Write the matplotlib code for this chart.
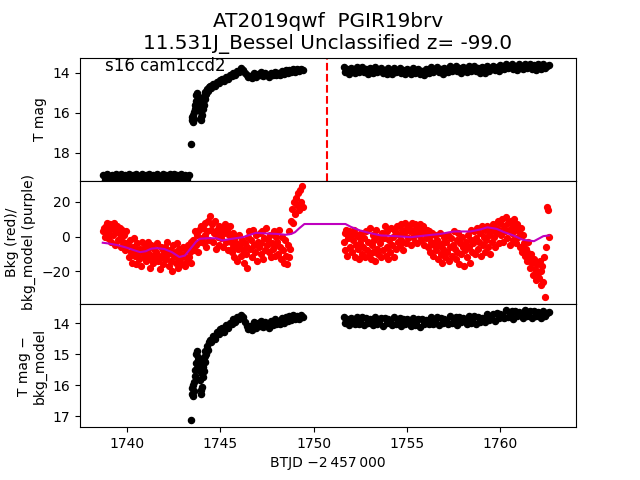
import numpy as np
import matplotlib
matplotlib.use("Agg")
import matplotlib.pyplot as plt

# ---------------- data ----------------
# cadence / segment starts (BTJD - 2457000)
t_faint_start, t_mag_step = 1738.7, 0.1
t_left_start = 1744.5
t_right_start = 1751.6
t_bkg_left_start, t_bkg_right_start, t_bkg_step = 1738.7, 1751.6, 0.05

# quiescent (faint) T mag, only in top panel
mag_faint = [19.10, 19.35, 19.08, 19.25, 19.42, 19.09, 19.30, 19.08, 19.38, 19.20,
             19.08, 19.40, 19.10, 19.28, 19.08, 19.36, 19.09, 19.24, 19.08, 19.41,
             19.18, 19.08, 19.33, 19.10, 19.43, 19.08, 19.26, 19.09, 19.37, 19.08,
             19.22, 19.39, 19.07, 19.30, 19.09, 19.40, 19.08, 19.27, 19.06, 19.35,
             19.09, 19.24, 19.08, 19.38, 19.10, 19.30, 19.12]

# outburst rise
t_rise = [1743.40, 1743.48, 1743.50, 1743.53, 1743.55, 1743.58, 1743.60, 1743.63, 1743.65,
          1743.68, 1743.70, 1743.73, 1743.75, 1743.78, 1743.80, 1743.85, 1743.90, 1743.93,
          1743.95, 1743.98, 1744.00, 1744.03, 1744.05, 1744.08, 1744.10, 1744.13, 1744.15,
          1744.18, 1744.20, 1744.25, 1744.30, 1744.35, 1744.40, 1744.45]
mag_rise = [17.58, 16.35, 16.20, 16.45, 16.10, 16.30, 15.95, 15.60, 15.80, 15.40, 15.10,
            15.55, 15.00, 15.30, 15.15, 15.35, 15.60, 15.90, 16.20, 16.35, 15.70, 16.10,
            15.45, 15.80, 15.25, 15.60, 15.30, 15.10, 14.95, 15.05, 14.80, 14.90, 14.70, 14.65]
dmag_rise = [17.14, 16.30, 16.10, 16.35, 16.00, 16.20, 15.90, 15.50, 15.70, 15.30, 15.00,
             15.45, 14.90, 15.20, 15.10, 15.30, 15.55, 15.85, 16.15, 16.30, 15.65, 16.05,
             15.40, 15.75, 15.20, 15.55, 15.25, 15.05, 14.90, 15.00, 14.75, 14.85, 14.60, 14.55]

# bright part before the gap
mag_left = [14.75, 14.55, 14.65, 14.45, 14.50, 14.35,
            14.30, 14.42, 14.20, 14.30, 14.12,
            14.18, 14.00, 14.10, 13.90, 13.97,
            13.75, 13.85, 14.00, 14.12, 14.22,
            14.15, 14.25, 14.02, 14.20, 14.06,
            14.14, 13.98, 14.18, 14.03, 14.12,
            14.20, 14.00, 14.14, 13.96, 14.10,
            14.00, 14.12, 13.91, 14.05, 13.88,
            14.02, 13.86, 13.98, 13.82, 13.95,
            13.84, 13.94, 13.81, 13.89]
dmag_left = [14.60, 14.40, 14.50, 14.30, 14.35, 14.20,
             14.15, 14.27, 14.05, 14.17, 13.98,
             14.02, 13.88, 13.97, 13.80, 13.86,
             13.74, 13.80, 13.95, 14.08, 14.20,
             14.10, 14.22, 13.96, 14.15, 14.00,
             14.10, 13.92, 14.13, 13.96, 14.07,
             14.14, 13.93, 14.07, 13.88, 14.02,
             13.92, 14.04, 13.84, 13.98, 13.80,
             13.93, 13.78, 13.90, 13.74, 13.86,
             13.77, 13.87, 13.74, 13.81]

# after the gap
mag_right = [13.73, 13.98, 13.83, 14.05, 13.76,
             13.92, 14.03, 13.72, 13.96, 13.87, 13.74, 13.99, 13.84, 14.06, 13.77,
             13.93, 14.04, 13.73, 13.97, 13.88, 13.75, 14.00, 13.85, 14.07, 13.78,
             13.95, 14.06, 13.75, 13.99, 13.90, 13.77, 14.02, 13.87, 14.09, 13.80,
             13.98, 14.09, 13.78, 14.02, 13.93, 13.80, 14.05, 13.90, 14.12, 13.83,
             13.91, 14.02, 13.71, 13.95, 13.86, 13.73, 13.98, 13.83, 14.05, 13.76,
             13.87, 13.98, 13.67, 13.91, 13.82, 13.69, 13.94, 13.79, 14.01, 13.72,
             13.86, 13.97, 13.66, 13.90, 13.81, 13.68, 13.93, 13.78, 14.00, 13.71,
             13.89, 14.00, 13.69, 13.93, 13.82, 13.66, 13.88, 13.72, 13.92, 13.63,
             13.74, 13.84, 13.56, 13.78, 13.68, 13.57, 13.80, 13.65, 13.86, 13.59,
             13.72, 13.84, 13.55, 13.78, 13.67, 13.57, 13.81, 13.64, 13.85, 13.59,
             13.72, 13.82, 13.57, 13.77, 13.66, 13.61]
dmag_right = [13.80, 14.00, 13.88, 14.06, 13.82,
              13.95, 14.04, 13.79, 14.01, 13.91, 13.81, 14.07, 13.83, 13.99, 13.86,
              13.96, 14.05, 13.80, 14.02, 13.92, 13.82, 14.08, 13.84, 14.00, 13.87,
              13.97, 14.06, 13.81, 14.03, 13.93, 13.83, 14.09, 13.85, 14.01, 13.88,
              13.99, 14.08, 13.83, 14.05, 13.95, 13.85, 14.11, 13.87, 14.03, 13.90,
              13.95, 14.04, 13.79, 14.01, 13.91, 13.81, 14.07, 13.83, 13.99, 13.86,
              13.93, 14.02, 13.77, 13.99, 13.89, 13.79, 14.05, 13.81, 13.97, 13.84,
              13.92, 14.01, 13.76, 13.98, 13.88, 13.78, 14.04, 13.80, 13.96, 13.83,
              13.87, 13.95, 13.70, 13.90, 13.80, 13.70, 13.93, 13.68, 13.84, 13.70,
              13.73, 13.82, 13.57, 13.79, 13.69, 13.59, 13.85, 13.61, 13.77, 13.64,
              13.72, 13.83, 13.58, 13.78, 13.70, 13.60, 13.84, 13.62, 13.76, 13.65,
              13.73, 13.82, 13.60, 13.78, 13.68, 13.63]

# background flux (red points)
bkg_left = [3, 5, 0, 6, 2, 8, -1,
            4, 7, -3, 5, 1, 8, -5, 3, 6, -2,
            2, 5, -6, 0, 4, -3, 1, -8, 3, -4,
            -5, -12, -2, -9, -15, -6, -1, -11, -7, -16,
            -4, -10, -13, -7, -17, -3, -9, -12, -6, -14,
            -8, -3, -13, -10, -18, -5, -11, -15, -7, -12,
            -9, -4, -14, -11, -19, -6, -12, -8, -16, -10,
            -6, -13, -3, -10, -17, -8, -14, -20, -5, -11,
            -9, -15, -4, -12, -18, -7, -13, -10, -16, -6,
            -11, -17, -8, -14, -5, -12, -9, -15, -3, -7,
            -2, -8, 3, -5, 1, -9, 4, -3, 6, -1,
            5, -4, 8, 1, -6, 3, 9, -2, 12, 4,
            7, -3, 2, 9, -7, 4, 0, 6, -5, 3,
            -1, 5, -6, 2, 7, -3, 4, -8, 1, 6,
            -3, -9, 2, -6, -12, 0, -4, -14, -7, 1,
            -5, -11, -2, -8, -15, -4, -10, -18, -6, 0,
            3, -7, -2, -12, 4, -5, -9, 1, -14, -3,
            -6, 2, -10, -4, 3, -13, -1, -8, 5, -5,
            -2, -9, 1, -12, -4, -7, 3, -11, -5, 0,
            -3, -10, 4, -6, -13, 0, -8, -15, -2, -11,
            -16, -5, -12, 3, -7, 9, 16, 8, 20, 13,
            22, 18, 25, 15, 27, 20, 29, 17]
bkg_right = [-3, 2, -8, 4, -11, -1, 3, -6, 1,
             -9, -2, 4, -12, -5, 1, -7, -13, 0, -4,
             2, -10, -6, -1, -12, 3, -8, -3, -11, 5,
             -13, -5, 1, -9, -2, -14, 4, -7, -10, 0,
             -4, -12, 2, -8, -1, 6, -11, -6, 3, -13,
             -2, -9, 5, -5, 0, -12, 3, -7, 6, -3,
             1, -5, 7, -2, 4, -8, 2, 8, -4, 5,
             -1, 6, 3, -5, 8, 0, 4, -3, 7, 2,
             -4, 5, 1, 7, -2, 3, 6, -5, 2, -1,
             4, -6, 0, 3, -9, -3, 2, -11, -5, 1,
             -8, -2, -13, -5, 2, -10, -15, -4, -7, 0,
             -12, -3, -9, 1, -14, -6, -1, -11, -5, 3,
             -7, -13, -2, -9, 2, -16, -4, -10, 0, -6,
             -17, -8, -3, -12, 1, -6, -15, -2, 4, -9,
             -4, 3, -10, -1, 5, -7, -3, 2, -11, 6,
             -5, 0, -9, 4, -2, 6, -6, 1, -10, 3,
             -3, 7, 0, -6, 5, 2, 9, -4, 4, 8,
             1, 10, -3, 6, 3, 11, -1, 8, 4, -5,
             9, 2, 6, -2, 10, 4, -4, 7, 0, 3,
             -6, 5, -9, 1, -4, -11, -7, -14, -9, -3,
             -12, -18, -10, -15, -22, -13, -19, -25, -16, -21,
             -24, -14, -28, -20, -17, -26, -12, -35, -6, 17, 15, 0]

# background model (purple line)
t_model = [1738.7, 1739.0, 1739.5, 1740.0, 1740.4, 1740.7, 1741.0, 1741.3, 1741.6, 1742.0,
           1742.4, 1742.8, 1743.1, 1743.4, 1743.7, 1743.9, 1744.3, 1744.8, 1745.1, 1745.5,
           1746.2, 1746.6, 1746.9, 1747.4, 1748.0, 1748.5, 1748.8, 1749.0, 1749.2, 1749.5,
           1751.7, 1752.0, 1752.5, 1753.0, 1753.6, 1754.4, 1755.2, 1756.0, 1756.8, 1757.5,
           1758.4, 1758.9, 1759.3, 1759.8, 1760.2, 1760.7, 1761.2, 1761.8, 1762.3, 1762.6]
bkg_model = [-3.6, -4.0, -5.0, -6.5, -8.0, -9.0, -8.5, -7.0, -6.7, -7.2,
             -9.0, -11.8, -11.0, -7.0, -3.0, -1.3, -1.0, -1.0, -2.3, -1.5,
             -0.4, 1.0, 2.1, 1.8, 1.5, 1.0, 1.5, 2.5, 4.5, 7.2,
             7.2, 5.5, 3.4, 2.0, 0.6, 0.2, -0.4, 0.6, 1.5, 2.9,
             2.9, 4.0, 5.3, 4.4, 2.5, 0.6, -1.9, -2.7, 0.2, 0.6]

t_marker = 1750.72

title_text = "AT2019qwf  PGIR19brv\n11.531J_Bessel Unclassified z= -99.0"
sector_text = "s16 cam1ccd2"

# ---------------- times ----------------
t_faint = t_faint_start + t_mag_step * np.arange(len(mag_faint))
t_left = t_left_start + t_mag_step * np.arange(len(mag_left))
t_right = t_right_start + t_mag_step * np.arange(len(mag_right))
t_bkg_left = t_bkg_left_start + t_bkg_step * np.arange(len(bkg_left))
t_bkg_right = t_bkg_right_start + t_bkg_step * np.arange(len(bkg_right))

# ---------------- plot ----------------
fig, (ax1, ax2, ax3) = plt.subplots(3, 1, sharex=True, figsize=(6.4, 4.8), dpi=100,
                                    gridspec_kw=dict(hspace=0))

ms = 4.4
for t, v in [(t_faint, mag_faint), (t_rise, mag_rise), (t_left, mag_left), (t_right, mag_right)]:
    ax1.plot(t, v, 'o', color='k', ms=ms)
ax1.axvline(t_marker, color='r', ls='--', lw=1.5)
ax1.set_ylim(19.4, 13.25)
ax1.set_ylabel("T mag")
ax1.set_title(title_text, fontsize=14.4)
ax1.text(0.05, 0.895, sector_text, transform=ax1.transAxes, fontsize=12, va='baseline')

ax2.plot(t_bkg_left, bkg_left, 'o', color='r', ms=4.2)
ax2.plot(t_bkg_right, bkg_right, 'o', color='r', ms=4.2)
ax2.plot(t_model, bkg_model, '-', color='m', lw=1.5)
ax2.set_ylim(-38.9, 32.1)
ax2.set_yticks([-20, 0, 20])
ax2.set_ylabel("Bkg (red)/\nbkg_model (purple)")

for t, v in [(t_rise, dmag_rise), (t_left, dmag_left), (t_right, dmag_right)]:
    ax3.plot(t, v, 'o', color='k', ms=ms)
ax3.set_ylim(17.36, 13.38)
ax3.set_yticks([14, 15, 16, 17])
ax3.set_ylabel("T mag \u2212\nbkg_model")
ax3.set_xlabel("BTJD \u22122\u2009457\u2009000")

ax3.set_xlim(1737.48, 1764.05)
ax3.set_xticks([1740, 1745, 1750, 1755, 1760])
for ax in (ax1, ax2):
    ax.tick_params(axis='x', bottom=False, labelbottom=False)

fig.savefig("out.png", dpi=100)
